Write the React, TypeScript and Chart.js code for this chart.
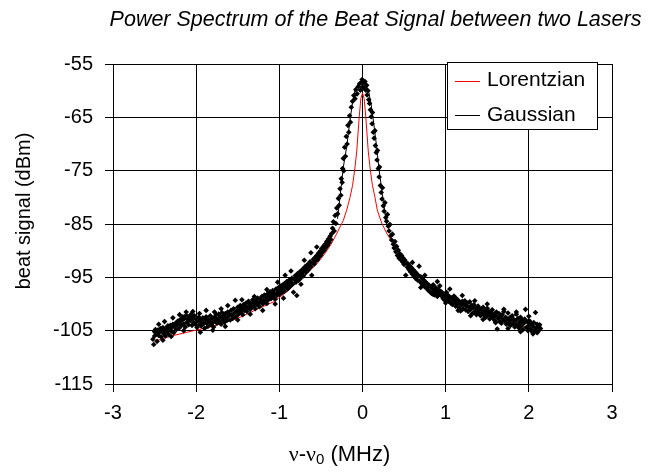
import React, { useEffect, useRef } from 'react';
import { Chart, registerables } from 'chart.js';

Chart.register(...registerables);

const chartTitle = 'Power Spectrum of the Beat Signal between two Lasers';
const yAxisTitle = 'beat signal (dBm)';
const seriesNames = ['Lorentzian', 'Gaussian'];
const xRange = [-3, 3];
const yRange = [-115, -55];

const beatPoints: [number, number][] = [
  [-2.52,-106.6],[-2.51,-107.6],[-2.50,-105.2],[-2.50,-106.0],[-2.49,-104.8],[-2.48,-105.6],[-2.47,-107.0],[-2.46,-104.9],[-2.45,-105.9],[-2.44,-105.3],
  [-2.43,-104.6],[-2.42,-106.2],[-2.41,-105.0],[-2.40,-104.4],[-2.39,-105.6],[-2.38,-104.9],[-2.37,-106.0],[-2.36,-104.5],[-2.35,-105.2],[-2.34,-104.1],
  [-2.33,-105.7],[-2.32,-104.7],[-2.31,-104.0],[-2.30,-105.1],[-2.29,-104.4],[-2.28,-103.8],[-2.27,-105.4],[-2.26,-104.2],[-2.25,-103.6],[-2.24,-104.8],
  [-2.23,-103.9],[-2.22,-103.2],[-2.21,-104.6],[-2.20,-103.5],[-2.19,-102.9],[-2.18,-104.1],[-2.17,-103.0],[-2.16,-102.4],[-2.15,-103.7],[-2.14,-102.7],
  [-2.13,-104.3],[-2.12,-102.1],[-2.11,-103.4],[-2.10,-102.8],[-2.09,-103.9],[-2.08,-102.3],[-2.07,-103.1],[-2.06,-101.9],[-2.05,-104.0],[-2.04,-102.6],
  [-2.03,-103.5],[-2.02,-102.2],[-2.01,-103.8],[-2.00,-102.9],[-1.99,-104.4],[-1.98,-103.2],[-1.97,-102.5],[-1.96,-103.9],[-1.95,-102.8],[-1.94,-104.1],
  [-1.93,-103.4],[-1.92,-102.6],[-1.91,-103.7],[-1.90,-104.6],[-1.89,-103.0],[-1.88,-102.4],[-1.87,-103.6],[-1.86,-104.2],[-1.85,-102.9],[-1.84,-103.3],
  [-1.83,-102.2],[-1.82,-103.9],[-1.81,-102.7],[-1.80,-103.5],[-1.79,-104.3],[-1.78,-102.5],[-1.77,-103.1],[-1.76,-102.0],[-1.75,-103.6],[-1.74,-102.8],
  [-1.73,-101.9],[-1.72,-103.3],[-1.71,-102.4],[-1.70,-103.8],[-1.69,-101.6],[-1.68,-102.9],[-1.67,-102.2],[-1.66,-103.4],[-1.65,-101.8],[-1.64,-102.6],
  [-1.63,-103.1],[-1.62,-101.5],[-1.61,-102.3],[-1.60,-101.9],[-1.59,-103.0],[-1.58,-101.2],[-1.57,-102.1],[-1.56,-102.7],[-1.55,-100.9],[-1.54,-101.7],
  [-1.53,-99.3],[-1.52,-102.4],[-1.51,-101.3],[-1.50,-100.6],[-1.49,-101.9],[-1.48,-101.0],[-1.47,-100.3],[-1.46,-101.5],[-1.45,-100.8],[-1.44,-102.0],
  [-1.43,-100.1],[-1.42,-101.2],[-1.41,-100.5],[-1.40,-99.8],[-1.39,-101.4],[-1.38,-100.7],[-1.37,-99.5],[-1.36,-100.2],[-1.35,-101.0],[-1.34,-99.9],
  [-1.33,-100.6],[-1.32,-99.2],[-1.31,-100.4],[-1.30,-99.7],[-1.29,-100.9],[-1.28,-99.4],[-1.27,-100.1],[-1.26,-98.9],[-1.25,-99.8],[-1.24,-100.5],
  [-1.23,-99.1],[-1.22,-99.6],[-1.21,-98.6],[-1.20,-100.0],[-1.19,-99.3],[-1.18,-98.3],[-1.17,-99.5],[-1.16,-98.8],[-1.15,-99.9],[-1.14,-98.1],
  [-1.13,-99.2],[-1.12,-98.6],[-1.11,-97.7],[-1.10,-99.0],[-1.09,-98.3],[-1.08,-97.5],[-1.07,-98.8],[-1.06,-98.0],[-1.05,-99.1],[-1.04,-97.2],
  [-1.03,-98.4],[-1.02,-97.8],[-1.01,-96.9],[-1.00,-98.2],[-0.99,-97.4],[-0.98,-96.6],[-0.97,-97.9],[-0.96,-97.0],[-0.95,-96.3],[-0.94,-97.6],
  [-0.93,-96.1],[-0.92,-96.8],[-0.91,-95.8],[-0.90,-97.2],[-0.89,-96.4],[-0.88,-95.5],[-0.87,-96.7],[-0.86,-95.9],[-0.85,-95.2],[-0.84,-96.3],
  [-0.83,-97.8],[-0.82,-95.4],[-0.81,-94.7],[-0.80,-95.9],[-0.79,-95.0],[-0.78,-94.3],[-0.77,-95.6],[-0.76,-94.6],[-0.75,-93.9],[-0.74,-95.1],
  [-0.73,-94.2],[-0.72,-93.5],[-0.71,-94.7],[-0.70,-93.7],[-0.69,-93.0],[-0.68,-94.1],[-0.67,-93.3],[-0.66,-92.6],[-0.65,-93.6],[-0.64,-92.8],
  [-0.63,-92.1],[-0.62,-93.0],[-0.61,-94.6],[-0.60,-92.3],[-0.59,-91.6],[-0.58,-92.5],[-0.57,-91.3],[-0.56,-91.9],[-0.55,-90.9],[-0.54,-91.7],
  [-0.53,-90.5],[-0.52,-91.2],[-0.51,-90.1],[-0.50,-90.8],[-0.49,-89.6],[-0.48,-90.3],[-0.47,-89.2],[-0.46,-89.9],[-0.45,-88.8],[-0.44,-89.4],
  [-0.43,-88.3],[-0.42,-89.0],[-0.41,-87.8],[-0.40,-88.5],[-0.39,-87.3],[-0.38,-87.9],[-0.37,-86.8],
  [-2.45,-103.8],[-2.38,-103.3],[-2.28,-102.6],[-2.20,-102.0],[-2.12,-101.5],[-2.04,-101.4],[-1.96,-101.8],[-1.88,-101.2],[-1.78,-101.5],[-1.70,-100.9],
  [-1.62,-100.3],[-1.45,-99.2],[-1.30,-98.6],[-1.15,-97.3],[-1.02,-95.9],[-0.93,-94.6],[-0.86,-93.8],[-0.70,-91.8],[-0.62,-90.4],[-0.55,-89.3],
  [-2.40,-106.8],[-2.30,-106.1],[-2.15,-105.0],[-1.95,-105.3],[-1.80,-104.9],[-1.65,-104.2],[-1.50,-103.0],[-1.35,-101.9],[-1.20,-101.2],[-1.05,-100.0],
  [-0.95,-98.9],[-0.79,-98.4],[-0.74,-96.3],
  [-0.36,-85.8],[-0.35,-84.6],[-0.34,-86.3],[-0.33,-83.4],[-0.32,-84.9],[-0.31,-82.0],[-0.30,-83.1],[-0.29,-80.2],[-0.28,-81.5],[-0.27,-78.4],
  [-0.26,-79.6],[-0.255,-76.5],[-0.24,-74.6],[-0.245,-77.2],[-0.23,-72.7],[-0.225,-75.0],[-0.215,-70.6],[-0.205,-72.3],[-0.195,-68.6],[-0.185,-70.0],
  [-0.175,-66.5],[-0.165,-67.8],[-0.155,-64.7],[-0.145,-65.9],[-0.135,-63.1],[-0.12,-62.0],[-0.105,-60.9],[-0.09,-61.5],[-0.08,-59.8],[-0.065,-60.6],
  [-0.05,-59.2],[-0.035,-58.7],[-0.025,-59.9],[-0.01,-58.4],[0.00,-59.3],[-0.005,-57.9],
  [0.01,-58.6],[0.02,-59.5],[0.03,-58.3],[0.04,-59.9],[0.05,-59.0],[0.055,-60.8],[0.065,-60.0],[0.075,-61.7],[0.085,-62.4],[0.095,-63.6],
  [0.105,-64.9],[0.115,-66.2],[0.12,-64.1],[0.13,-67.8],[0.14,-68.9],[0.15,-67.5],[0.155,-70.3],[0.165,-71.6],[0.175,-73.0],[0.18,-71.2],
  [0.19,-74.6],[0.20,-76.2],[0.205,-74.3],[0.215,-77.8],[0.225,-79.1],[0.235,-80.3],[0.24,-78.2],[0.25,-81.6],[0.26,-82.6],[0.27,-81.0],
  [0.28,-83.8],[0.29,-84.5],[0.30,-83.2],[0.31,-85.4],[0.32,-86.3],[0.33,-85.1],[0.34,-87.2],[0.35,-88.0],[0.36,-86.9],[0.37,-88.8],
  [0.38,-89.5],[0.39,-88.3],[0.40,-90.2],[0.41,-89.2],[0.42,-90.9],[0.43,-89.9],[0.44,-91.4],
  [0.45,-90.6],[0.46,-91.7],[0.47,-90.9],[0.48,-92.1],[0.49,-91.4],[0.50,-92.6],[0.51,-91.8],[0.52,-94.6],[0.53,-92.3],[0.54,-93.1],
  [0.55,-92.5],[0.56,-93.6],[0.57,-92.9],[0.58,-94.0],[0.59,-93.2],[0.60,-94.4],[0.61,-93.6],[0.62,-94.8],[0.63,-93.9],[0.64,-95.2],
  [0.65,-94.3],[0.66,-95.5],[0.67,-94.6],[0.68,-92.9],[0.69,-95.8],[0.70,-94.9],[0.71,-96.1],[0.72,-95.2],[0.73,-96.4],[0.74,-95.6],
  [0.75,-96.8],[0.76,-95.9],[0.77,-97.0],[0.78,-96.2],[0.79,-97.4],[0.80,-96.5],[0.81,-97.7],[0.82,-96.8],[0.83,-98.0],[0.84,-97.1],
  [0.85,-96.4],[0.86,-97.5],[0.87,-98.3],[0.88,-96.9],[0.89,-97.8],[0.90,-98.6],[0.91,-97.3],[0.92,-98.1],[0.93,-96.6],[0.94,-97.6],
  [0.95,-98.5],[0.96,-97.9],[0.97,-99.0],[0.98,-98.2],[0.99,-99.3],[1.00,-98.6],[1.01,-97.8],[1.02,-99.1],[1.03,-98.4],[1.04,-99.5],
  [1.05,-98.7],[1.06,-99.8],[1.07,-98.9],[1.08,-100.1],[1.09,-99.2],[1.10,-98.5],[1.11,-99.6],[1.12,-100.4],[1.13,-99.0],[1.14,-100.0],
  [1.15,-99.3],[1.16,-100.7],[1.17,-99.7],[1.18,-101.3],[1.19,-100.2],[1.20,-99.5],[1.21,-100.9],[1.22,-100.1],[1.23,-99.4],[1.24,-101.1],
  [1.25,-100.4],[1.26,-99.8],[1.27,-101.4],[1.28,-100.6],[1.29,-99.6],[1.30,-101.0],[1.31,-100.3],[1.32,-101.8],[1.33,-100.8],[1.34,-100.1],
  [1.35,-101.5],[1.36,-100.7],[1.37,-102.0],[1.38,-101.1],[1.39,-100.4],[1.40,-101.7],[1.41,-101.0],[1.42,-102.2],[1.43,-100.9],[1.44,-101.6],
  [1.45,-100.6],[1.46,-102.0],[1.47,-101.3],[1.48,-102.5],[1.49,-101.5],[1.50,-100.8],[1.51,-102.1],[1.52,-101.4],[1.53,-102.8],[1.54,-101.7],
  [1.55,-102.4],[1.56,-101.1],[1.57,-102.6],[1.58,-101.9],[1.59,-103.1],[1.60,-102.2],[1.61,-101.5],[1.62,-104.7],[1.63,-102.7],[1.64,-101.8],
  [1.65,-103.3],[1.66,-102.4],[1.67,-103.6],[1.68,-102.0],[1.69,-102.9],[1.70,-101.4],[1.71,-103.2],[1.72,-102.5],[1.73,-103.8],[1.74,-102.8],
  [1.75,-101.7],[1.76,-103.5],[1.77,-102.6],[1.78,-104.0],[1.79,-103.0],[1.80,-102.2],[1.81,-103.7],[1.82,-102.9],[1.83,-104.3],[1.84,-103.2],
  [1.85,-101.9],[1.86,-103.9],[1.87,-102.7],[1.88,-104.5],[1.89,-103.4],[1.90,-102.5],[1.91,-104.1],[1.92,-103.1],[1.93,-104.8],[1.94,-103.6],
  [1.95,-102.8],[1.96,-101.0],[1.97,-104.4],[1.98,-103.3],[1.99,-105.0],[2.00,-104.0],[2.01,-103.2],[2.02,-104.7],[2.03,-103.7],[2.04,-105.2],
  [2.05,-104.2],[2.06,-103.5],[2.07,-104.9],[2.08,-101.6],[2.09,-104.4],[2.10,-103.8],[2.11,-105.1],[2.12,-104.3],[2.13,-103.9],[2.14,-104.6],
  [0.60,-92.2],[0.75,-94.6],[0.90,-95.8],[1.05,-97.2],[1.20,-98.4],[1.35,-99.4],[1.50,-100.0],[1.70,-101.0],[1.85,-101.5],[2.00,-102.3],
  [0.70,-96.9],[0.85,-98.2],[1.00,-99.8],[1.15,-101.2],[1.30,-102.2],[1.45,-102.9],[1.60,-103.5],[1.75,-104.6],[1.90,-105.2],[2.05,-105.6],[2.10,-105.4]
];

const lorentzX = [-2.50,-2.30,-2.03,-1.80,-1.67,-1.50,-1.39,-1.20,-1.07,-0.90,-0.80,-0.75,-0.65,-0.55,-0.45,-0.37,-0.30,-0.23,-0.19,-0.15,-0.12,-0.095,-0.07,-0.04,-0.02,0.00,0.02,0.04,0.07,0.095,0.12,0.15,0.178,0.23,0.29,0.35,0.41,0.45,0.55,0.66,0.80,0.94,1.10,1.25,1.42,1.65,1.90,2.14];
const lorentzY = [-107.0,-106.0,-105.0,-104.2,-103.5,-102.7,-101.9,-100.5,-99.6,-97.6,-96.0,-95.3,-94.0,-92.5,-90.5,-88.6,-86.5,-84.3,-82.4,-80.0,-77.8,-75.0,-71.5,-65.0,-61.5,-60.4,-61.5,-65.0,-71.5,-75.0,-77.8,-80.0,-82.4,-84.8,-86.7,-88.2,-89.4,-90.4,-92.3,-94.4,-96.4,-98.1,-99.2,-100.0,-101.4,-102.5,-104.0,-105.2];

const gaussX = [-0.30,-0.26,-0.23,-0.19,-0.15,-0.12,-0.09,-0.05,-0.02,0.01,0.04,0.07,0.10,0.13,0.17,0.20,0.24,0.28];
const gaussY = [-84.0,-78.5,-74.3,-70.5,-65.5,-62.3,-59.9,-58.8,-58.4,-58.4,-58.9,-59.9,-62.2,-65.5,-70.5,-74.9,-79.5,-84.0];

const FONT = '"Liberation Sans", Arial, sans-serif';

const textPlugin = {
  id: 'refTexts',
  afterDraw(chart: any) {
    const { ctx, chartArea: a } = chart;
    ctx.save();
    ctx.fillStyle = '#000';
    // title
    ctx.font = `italic 21.5px ${FONT}`;
    ctx.textAlign = 'center';
    ctx.textBaseline = 'middle';
    ctx.fillText(chartTitle, (a.left + a.right) / 2 + 13, a.top - 44);
    // y title
    ctx.save();
    ctx.font = `20px ${FONT}`;
    ctx.translate(a.left - 89, (a.top + a.bottom) / 2 - 13);
    ctx.rotate(-Math.PI / 2);
    ctx.fillText(yAxisTitle, 0, 0);
    ctx.restore();
    // x title: ν-ν0 (MHz)
    const cx = (a.left + a.right) / 2 - 23;
    const cy = a.bottom + 71;
    const serif = `22px "Liberation Serif", serif`;
    const sans = `22px ${FONT}`;
    const sub = `15px ${FONT}`;
    const parts: [string, string, number][] = [
      ['ν', serif, 0], ['-', sans, 0], ['ν', serif, 0], ['0', sub, 5], [' (MHz)', sans, 0]
    ];
    let total = 0;
    parts.forEach(([t, f]) => { ctx.font = f; total += ctx.measureText(t).width; });
    let x = cx - total / 2;
    ctx.textAlign = 'left';
    parts.forEach(([t, f, dy]) => {
      ctx.font = f;
      ctx.fillText(t, x, cy + dy);
      x += ctx.measureText(t).width;
    });
    // legend
    const lx = a.right - 165, ly = a.top - 2, lw = 150, lh = 67;
    ctx.fillStyle = '#fff';
    ctx.fillRect(lx, ly, lw, lh);
    ctx.strokeStyle = '#000';
    ctx.lineWidth = 1;
    ctx.strokeRect(lx + 0.5, ly + 0.5, lw, lh);
    const colors = ['#ff0000', '#000000'];
    ctx.font = `21px ${FONT}`;
    ctx.textBaseline = 'middle';
    seriesNames.forEach((name, i) => {
      const yy = ly + 18.5 + i * 34.5;
      ctx.strokeStyle = colors[i];
      ctx.beginPath();
      ctx.moveTo(lx + 8, Math.round(yy) + 0.5);
      ctx.lineTo(lx + 33, Math.round(yy) + 0.5);
      ctx.stroke();
      ctx.fillStyle = '#000';
      ctx.fillText(name, lx + 40, yy);
    });
    ctx.restore();
  }
};

export default function App() {
  const ref = useRef<HTMLCanvasElement | null>(null);
  useEffect(() => {
    document.body.style.margin = '0';
    const canvas = ref.current;
    if (!canvas) return;
    const tickFont = { family: FONT, size: 20 };
    const chart = new Chart(canvas, {
      type: 'scatter',
      data: {
        datasets: [
          {
            label: 'data',
            data: beatPoints.map(([x, y]) => ({ x, y })),
            pointStyle: 'rectRot',
            pointRadius: 2.8,
            pointBackgroundColor: '#000',
            pointBorderWidth: 0,
            showLine: false,
          } as any,
          {
            label: seriesNames[1],
            data: gaussX.map((x, i) => ({ x, y: gaussY[i] })),
            showLine: true,
            borderColor: '#000',
            borderWidth: 1,
            pointRadius: 0,
          },
          {
            label: seriesNames[0],
            data: lorentzX.map((x, i) => ({ x, y: lorentzY[i] })),
            showLine: true,
            borderColor: '#ff0000',
            borderWidth: 1,
            pointRadius: 0,
          },
        ],
      },
      options: {
        responsive: false,
        animation: false,
        devicePixelRatio: 1,
        layout: { padding: { top: 64, right: 40, left: 0, bottom: 0 } },
        plugins: { legend: { display: false }, tooltip: { enabled: false }, title: { display: false } },
        scales: {
          x: {
            type: 'linear',
            min: xRange[0],
            max: xRange[1],
            ticks: { stepSize: 1, font: tickFont, color: '#000', padding: 9, callback: (v: any) => String(v) },
            grid: { color: '#000', lineWidth: 1, tickLength: 8 },
            border: { color: '#000', width: 1 },
            afterFit: (s: any) => { s.height = 89; },
          },
          y: {
            type: 'linear',
            min: yRange[0],
            max: yRange[1],
            ticks: { stepSize: 10, font: tickFont, color: '#000', padding: 12, callback: (v: any) => String(v) },
            grid: { color: '#000', lineWidth: 1, tickLength: 8 },
            border: { color: '#000', width: 1 },
            afterFit: (s: any) => { s.width = 113; },
          },
        },
      },
      plugins: [textPlugin],
    });
    return () => chart.destroy();
  }, []);
  return (
    <div style={{ width: 652, height: 473 }}>
      <canvas ref={ref} width={652} height={473} style={{ display: 'block' }} />
    </div>
  );
}
